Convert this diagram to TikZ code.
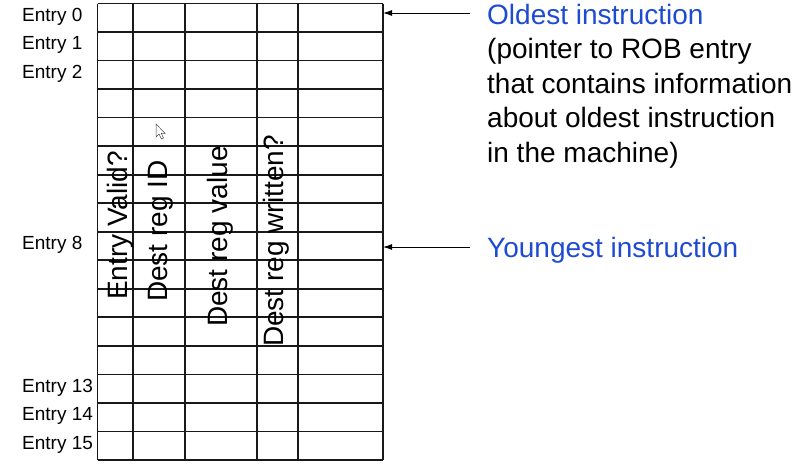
\documentclass[tikz,border=0pt]{standalone}
\usepackage{fontspec}
\setmainfont{Liberation Sans}
\usetikzlibrary{arrows.meta}
\definecolor{hlblue}{RGB}{30,75,210}
\begin{document}
\begin{tikzpicture}[x=1pt,y=-1pt,
  grid/.style={line width=1.7pt,black!90},
  entrylbl/.style={anchor=west,inner sep=0pt,font=\fontsize{19}{21}\selectfont},
  collbl/.style={rotate=90,anchor=base west,inner sep=0pt,font=\fontsize{28}{30}\selectfont},
  arr/.style={line width=0.9pt,-{Latex[length=9pt,width=6pt]}},
  note/.style={anchor=base west,inner sep=0pt,align=left,font=\fontsize{28}{34.5}\selectfont}]
\useasboundingbox (0,0) rectangle (800,474);
\fill[white] (0,0) rectangle (800,474);
% table grid
\def\tl{97.5}\def\tr{383}\def\tt{3.5}\def\tb{460}
\foreach \i in {0,...,16}{
  \draw[grid] (\tl,{\tt+\i*28.53}) -- (\tr,{\tt+\i*28.53});
}
\foreach \x in {97.5,133,185,257,298,383}{
  \draw[grid] (\x,\tt) -- (\x,\tb);
}
\coordinate (tabTop) at (\tr,13);
\coordinate (tabYoung) at (\tr,247);
% entry labels
\foreach \n/\r in {0/0,1/1,2/2,8/8,13/13,14/14,15/15}{
  \node[entrylbl] (e\n) at (22,{\tt+(\r+0.5)*28.53-1}) {Entry \n};
}
% column labels
\node[collbl] (c1) at (127,300) {Entry Valid?};
\node[collbl] (c2) at (167,302) {Dest reg ID};
\node[collbl] (c3) at (227,327) {Dest reg value};
\node[collbl] (c4) at (283,347) {Dest reg written?};
% cursor
\draw[black!70,fill=white,line width=0.5pt] (156,124) -- (156,137) -- (159,134) -- (161.5,139) -- (163.5,138) -- (161.2,133.3) -- (165,133.3) -- cycle;
% notes
\node[note] (old) at (487,162) {{\color{hlblue}Oldest instruction}\\(pointer to ROB entry\\that contains information\\about oldest instruction\\in the machine)};
\node[note] (young) at (487,257) {\color{hlblue}Youngest instruction};
\coordinate (oa) at (470,13);
\coordinate (ya) at (470,247);
\draw[arr] (oa) -- (tabTop);
\draw[arr] (ya) -- (tabYoung);
\end{tikzpicture}
\end{document}
